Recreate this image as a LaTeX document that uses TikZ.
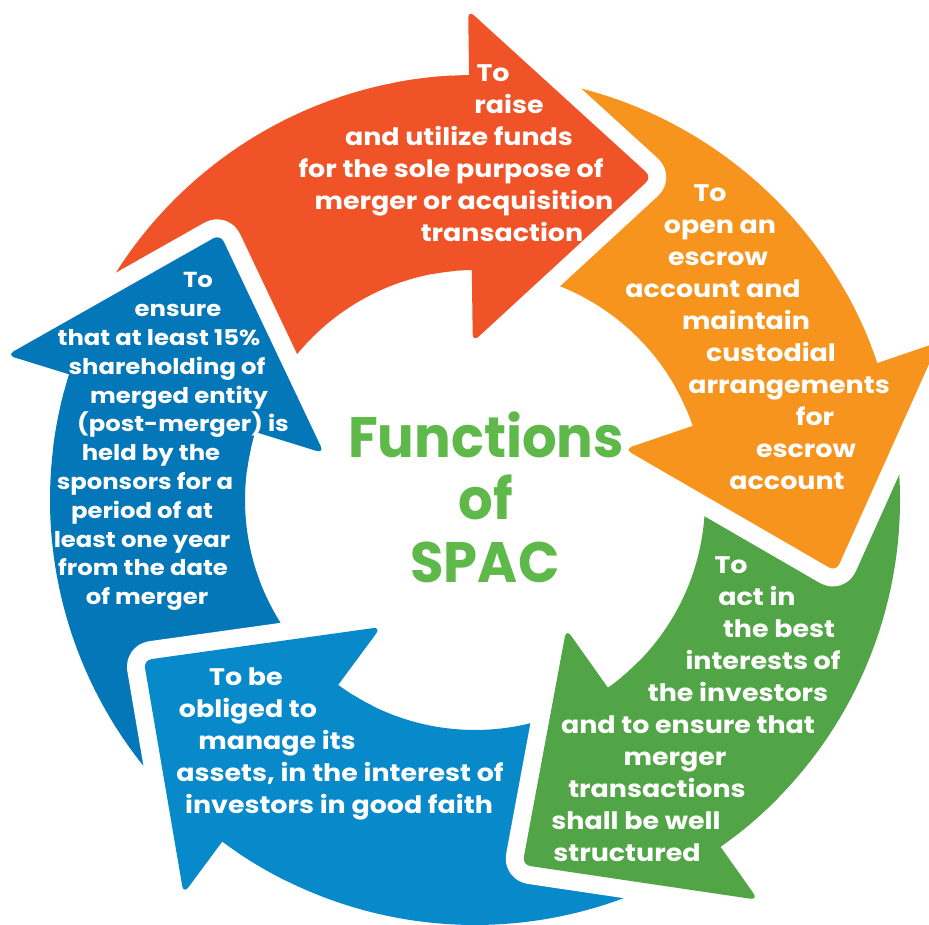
\documentclass[tikz,border=0pt]{standalone}
\usepackage{fontspec}
\setmainfont{Poppins}
\newfontfamily\bodyfont{Poppins}[FakeStretch=1.12]
\newfontfamily\titlefont{Poppins}[FakeStretch=0.955]
\definecolor{cred}{HTML}{EF5327}
\definecolor{corange}{HTML}{F7941D}
\definecolor{cgreen}{HTML}{52A546}
\definecolor{cblue}{HTML}{0789CA}
\definecolor{cdark}{HTML}{0477B8}
\definecolor{ctitle}{HTML}{5EB84A}
\newcommand\bandseg[3]{%
  \fill[#1] (#2:425) arc[start angle=#2, end angle=#3, radius=425pt]
    -- (#3:230) arc[start angle=#3, end angle=#2, radius=230pt] -- cycle;}
\newcommand\headseg[3]{%
  \draw[white, line width=36pt, line join=round, rounded corners=8pt]
    (#2:158) -- (#3:368) -- (#2:490) -- cycle;
  \fill[#1, rounded corners=8pt] (#2:158) -- (#3:368) -- (#2:490) -- cycle;
  \fill[#1] ({#2+10}:425) arc[start angle={#2+10}, end angle={#2-2}, radius=425pt]
    -- ({#2-2}:230) arc[start angle={#2-2}, end angle={#2+10}, radius=230pt] -- cycle;}
\newcommand\tl[4]{\node[txt] (#1) at (#2,{925-#3}) {#4};}
\newcommand\tls[4]{\node[txts] (#1) at (#2,{925-#3}) {#4};}
\begin{document}
\begin{tikzpicture}[x=1pt,y=1pt,
  txt/.style={white, font=\bodyfont\fontsize{24}{32}\selectfont\bfseries, anchor=base, inner sep=0pt},
  txts/.style={white, font=\bodyfont\fontsize{21.7}{29}\selectfont\bfseries, anchor=base, inner sep=0pt},
  ttl/.style={ctitle, font=\titlefont\fontsize{57}{62}\selectfont\bfseries, anchor=base, inner sep=0pt}]
\useasboundingbox (0,0) rectangle (929,925);
\begin{scope}[shift={(475,425)}]
  \bandseg{cred}{162.8}{90.8}
  \bandseg{corange}{90.8}{18.8}
  \bandseg{cgreen}{18.8}{-54.7}
  \bandseg{cblue}{-54.7}{-126.5}
  \bandseg{cdark}{-126.5}{-197.2}
  \headseg{cred}{90.8}{61.3}
  \headseg{corange}{18.8}{-11.2}
  \headseg{cgreen}{-54.7}{-82.6}
  \headseg{cblue}{-126.5}{-154.2}
  \headseg{cdark}{162.8}{133.8}
\end{scope}
% title
\node[ttl] (t1) at (486,{925-458}) {Functions};
\node[ttl] (t2) at (486,{925-520}) {of};
\node[ttl] (t3) at (485,{925-583}) {SPAC};
% red
\tl{r1}{493}{82}{To}
\tl{r2}{509}{114}{raise}
\tl{r3}{459}{146}{and utilize funds}
\tl{r4}{451}{178}{for the sole purpose of}
\tl{r5}{464}{210}{merger or acquisition}
\tl{r6}{502}{242}{transaction}
% orange
\tl{o1}{710}{202}{To}
\tl{o2}{720}{234}{open an}
\tl{o3}{718}{266}{escrow}
\tl{o4}{713}{298}{account and}
\tl{o5}{746}{330}{maintain}
\tl{o6}{771}{362}{custodial}
\tl{o7}{789}{394}{arrangements}
\tl{o8}{815}{426}{for}
\tl{o9}{806}{458}{escrow}
\tl{o10}{787}{490}{account}
% green
\tl{g1}{731}{574}{To}
\tl{g2}{757}{606}{act in}
\tl{g3}{779}{638}{the best}
\tl{g4}{763}{670}{interests of}
\tl{g5}{738}{702}{the investors}
\tl{g6}{688}{734}{and to ensure that}
\tl{g7}{675}{766}{merger}
\tl{g8}{657}{798}{transactions}
\tl{g9}{636}{830}{shall be well}
\tl{g10}{627}{862}{structured}
% blue
\tl{b1}{246}{686}{To be}
\tl{b2}{248}{718}{obliged to}
\tl{b3}{277}{750}{manage its}
\tl{b4}{340}{782}{assets, in the interest of}
\tl{b5}{339}{814}{investors in good faith}
% dark blue
\tls{d1}{198}{288}{To}
\tls{d2}{178}{316.8}{ensure}
\tls{d3}{159}{345.6}{that at least 15\%}
\tls{d4}{167}{374.4}{shareholding of}
\tls{d5}{179}{403.2}{merged entity}
\tls{d6}{183}{432}{(post-merger) is}
\tls{d7}{151}{460.8}{held by the}
\tls{d8}{145}{489.6}{sponsors for a}
\tls{d9}{142}{518.4}{period of at}
\tls{d10}{142}{547.2}{least one year}
\tls{d11}{143}{576}{from the date}
\tls{d12}{147}{604.8}{of merger}
\end{tikzpicture}
\end{document}
